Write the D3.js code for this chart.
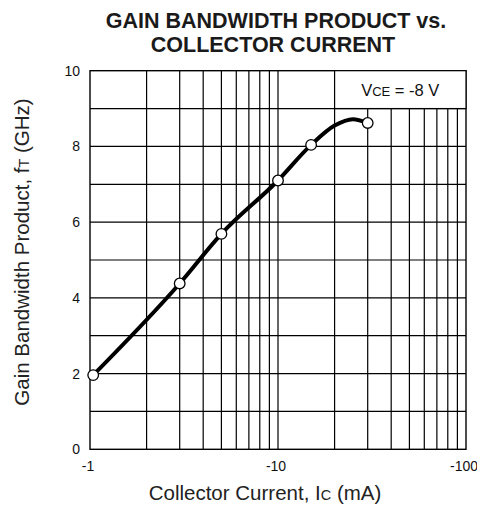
<!DOCTYPE html>
<html>
<head>
<meta charset="utf-8">
<script src="https://cdn.jsdelivr.net/npm/d3@7"></script>
<style>
  body { margin: 0; background: #fff; }
  svg { display: block; font-family: "Liberation Sans", Arial, sans-serif; }
</style>
</head>
<body>
<script>
const width = 477;
const height = 506;
const margin = { top: 70.7, right: 11, bottom: 56.7, left: 90 };

// measured points (Ic in mA, fT in GHz)
const currents = [1.04, 3, 5, 10, 15, 30];
const gains = [1.96, 4.38, 5.69, 7.10, 8.04, 8.62];

// the drawn curve
const curveCurrents = [1.04, 3, 5, 10, 15, 20, 25, 30];
const curveGains = [1.96, 4.38, 5.69, 7.10, 8.04, 8.55, 8.72, 8.62];

const xTicks = [1, 10, 100];
const xTickLabels = ['-1', '-10', '-100'];
const yTicks = [0, 2, 4, 6, 8, 10];
const xGrid = [2, 3, 4, 5, 6, 7, 8, 9, 10, 20, 30, 40, 50, 60, 70, 80, 90];
const yGrid = [1, 2, 3, 4, 5, 6, 7, 8, 9];

const svg = d3.create('svg')
  .attr('width', width)
  .attr('height', height)
  .style('background-color', '#fff');
document.body.appendChild(svg.node());

const x = d3.scaleLog()
  .domain([1, 100])
  .range([margin.left, width - margin.right]);
const y = d3.scaleLinear()
  .domain([0, 10])
  .range([height - margin.bottom, margin.top]);

// grid
svg.append('g')
  .selectAll('line')
  .data(xGrid)
  .enter().append('line')
  .attr('x1', d => x(d)).attr('x2', d => x(d))
  .attr('y1', y(0)).attr('y2', y(10))
  .attr('stroke', '#000').attr('stroke-width', 1.2);

svg.append('g')
  .selectAll('line')
  .data(yGrid)
  .enter().append('line')
  .attr('x1', x(1)).attr('x2', x(100))
  .attr('y1', d => y(d)).attr('y2', d => y(d))
  .attr('stroke', '#000').attr('stroke-width', 1.2);

// frame
svg.append('rect')
  .attr('x', x(1)).attr('y', y(10))
  .attr('width', x(100) - x(1)).attr('height', y(0) - y(10))
  .attr('fill', 'none').attr('stroke', '#000').attr('stroke-width', 1.4);

// condition box
svg.append('rect')
  .attr('x', x(20)).attr('y', y(10))
  .attr('width', x(100) - x(20)).attr('height', y(9) - y(10))
  .attr('fill', '#fff').attr('stroke', '#000').attr('stroke-width', 1.2);

const vce = svg.append('text')
  .attr('x', (x(20) + x(100)) / 2)
  .attr('y', (y(10) + y(9)) / 2 + 6)
  .attr('text-anchor', 'middle')
  .attr('font-size', 16.5)
  .attr('fill', '#111');
vce.append('tspan').text('V');
vce.append('tspan').attr('font-size', 13).text('CE');
vce.append('tspan').text(' = -8 V');

// tick labels
svg.append('g')
  .selectAll('text')
  .data(yTicks)
  .enter().append('text')
  .attr('x', margin.left - 10)
  .attr('y', d => y(d))
  .attr('dy', '0.36em')
  .attr('text-anchor', 'end')
  .attr('font-size', 14)
  .attr('fill', '#111')
  .text(d => d);

svg.append('g')
  .selectAll('text')
  .data(xTicks)
  .enter().append('text')
  .attr('x', d => x(d) - 2)
  .attr('y', y(0) + 22)
  .attr('text-anchor', 'middle')
  .attr('font-size', 14)
  .attr('fill', '#111')
  .text((d, i) => xTickLabels[i]);

// curve
const line = d3.line()
  .x(d => x(d[0]))
  .y(d => y(d[1]))
  .curve(d3.curveMonotoneX);

svg.append('path')
  .datum(d3.zip(curveCurrents, curveGains))
  .attr('d', line)
  .attr('fill', 'none')
  .attr('stroke', '#000')
  .attr('stroke-width', 4)
  .attr('stroke-linecap', 'round');

svg.append('g')
  .selectAll('circle')
  .data(d3.zip(currents, gains))
  .enter().append('circle')
  .attr('cx', d => x(d[0]))
  .attr('cy', d => y(d[1]))
  .attr('r', 5.3)
  .attr('fill', '#fff')
  .attr('stroke', '#000')
  .attr('stroke-width', 1.3);

// titles
svg.append('text')
  .attr('x', 276).attr('y', 27.5)
  .attr('text-anchor', 'middle')
  .attr('font-size', 21.5).attr('font-weight', 'bold')
  .attr('fill', '#1a1a1a')
  .text('GAIN BANDWIDTH PRODUCT vs.');
svg.append('text')
  .attr('x', 273).attr('y', 51.5)
  .attr('text-anchor', 'middle')
  .attr('font-size', 21.5).attr('font-weight', 'bold')
  .attr('fill', '#1a1a1a')
  .text('COLLECTOR CURRENT');

const xl = svg.append('text')
  .attr('x', 265).attr('y', 500)
  .attr('text-anchor', 'middle')
  .attr('font-size', 20.5)
  .attr('fill', '#222');
xl.append('tspan').text('Collector Current, I');
xl.append('tspan').attr('font-size', 14.5).text('C');
xl.append('tspan').text(' (mA)');

const yl = svg.append('text')
  .attr('transform', 'translate(29,252) rotate(-90)')
  .attr('text-anchor', 'middle')
  .attr('font-size', 20.5)
  .attr('fill', '#222');
yl.append('tspan').text('Gain Bandwidth Product, f');
yl.append('tspan').attr('font-size', 14.5).text('T');
yl.append('tspan').text(' (GHz)');
</script>
</body>
</html>
